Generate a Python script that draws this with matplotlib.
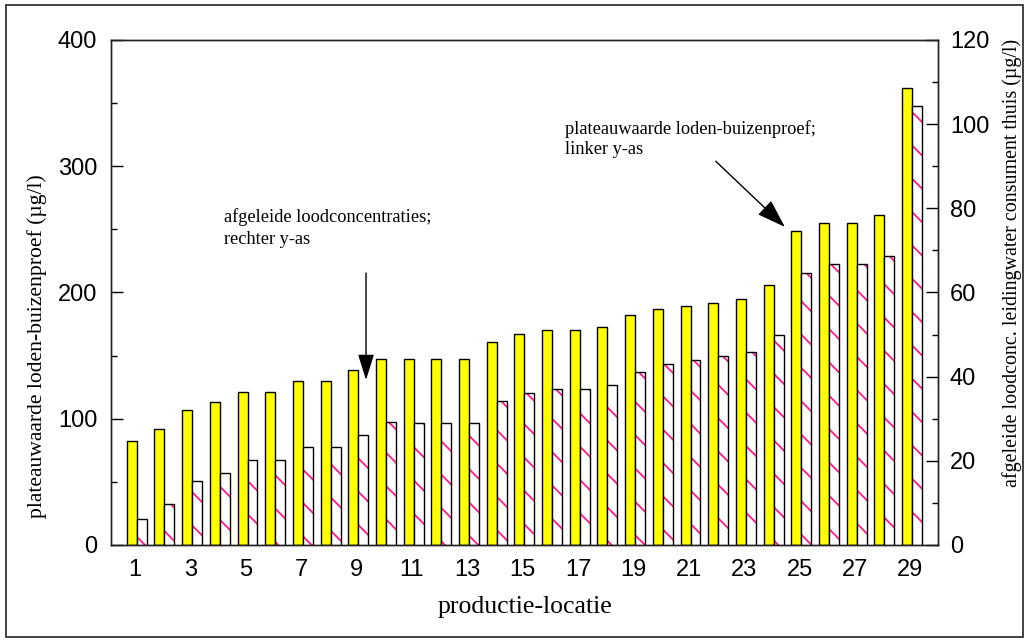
import matplotlib
matplotlib.use("Agg")
import matplotlib.pyplot as plt
from matplotlib.patches import Rectangle
from matplotlib.ticker import MultipleLocator
import numpy as np

locaties = np.arange(1, 30)
# plateauwaarde loden-buizenproef (linker y-as, ug/l)
plateau = [82, 92, 107, 113, 121, 121, 130, 130, 139, 147,
           147, 147, 147, 161, 167, 170, 170, 173, 182, 187,
           189, 192, 195, 206, 249, 255, 255, 261, 362]
# afgeleide loodconcentraties (rechter y-as, ug/l)
afgeleid = [6.2, 9.7, 15.3, 17.2, 20.2, 20.2, 23.2, 23.2, 26.1, 29.2,
            29.1, 29.1, 29.1, 34.1, 36.0, 37.0, 37.0, 38.0, 41.0, 42.9,
            43.9, 44.9, 45.9, 49.8, 64.6, 66.7, 66.7, 68.6, 104.2]
xtick_labels = [str(i) for i in range(1, 30, 2)]

serif = ["Liberation Serif", "DejaVu Serif"]
sans = ["Liberation Sans", "DejaVu Sans"]
plt.rcParams['font.family'] = sans
plt.rcParams['hatch.linewidth'] = 1.3

fig = plt.figure(figsize=(10.29, 6.42), dpi=100)
ax = fig.add_axes([0.1079, 0.1511, 0.8037, 0.7866])
ax2 = ax.twinx()

w = 0.36
ax.bar(locaties - 0.12, plateau, width=w, color='#ffff00', edgecolor='black', linewidth=1.0)

# gearceerde staven: eerst roze arcering, daarna zwarte rand erover
ax2.bar(locaties + 0.24, afgeleid, width=w, color='white', edgecolor='#ff1a8c',
        hatch='\\', linewidth=0)
ax2.bar(locaties + 0.24, afgeleid, width=w, fill=False, edgecolor='black', linewidth=1.0)

ax.set_xlim(0.13, 30.0)
ax.set_ylim(0, 400)
ax2.set_ylim(0, 120)

ax.set_xticks(range(1, 30, 2))
ax.set_xticklabels(xtick_labels)
ax.yaxis.set_major_locator(MultipleLocator(100))
ax.yaxis.set_minor_locator(MultipleLocator(50))
ax2.yaxis.set_major_locator(MultipleLocator(20))
ax2.yaxis.set_minor_locator(MultipleLocator(10))

ax.tick_params(axis='x', length=0, pad=10, labelsize=17)
ax.tick_params(axis='y', which='major', direction='in', length=8.6, width=1, pad=10, labelsize=17)
ax.tick_params(axis='y', which='minor', direction='in', length=4.3, width=1)
ax2.tick_params(axis='y', which='major', direction='in', length=8.6, width=1, pad=8.6, labelsize=17)
ax2.tick_params(axis='y', which='minor', direction='in', length=4.3, width=1)

for a in (ax, ax2):
    for s in a.spines.values():
        s.set_color('#222222')
        s.set_linewidth(1.0)

fig.text(0.036, 1 - 346 / 642, "plateauwaarde loden-buizenproef (µg/l)", rotation=90,
         ha='center', va='center', fontsize=15.6, family=serif)
fig.text(0.984, 1 - 263 / 642, "afgeleide loodconc. leidingwater consument thuis (µg/l)",
         rotation=90, ha='center', va='center', fontsize=14.4, family=serif)
ax.set_xlabel("productie-locatie", fontsize=18.5, family=serif, labelpad=11)

ax.annotate("", xy=(9.34, 130.7), xytext=(9.34, 215.4),
            arrowprops=dict(arrowstyle='-|>,head_length=1.6,head_width=0.5',
                            color='black', lw=1.0, shrinkA=0, shrinkB=0))
ax.text(4.21, 251, "afgeleide loodconcentraties;\nrechter y-as", ha='left', va='center',
        fontsize=13.2, family=serif, linespacing=1.45)

ax.annotate("", xy=(24.47, 251.9), xytext=(21.97, 304),
            arrowprops=dict(arrowstyle='-|>,head_length=1.8,head_width=0.6',
                            color='black', lw=1.0, shrinkA=0, shrinkB=0))
ax.text(16.52, 321.6, "plateauwaarde loden-buizenproef;\nlinker y-as", ha='left', va='center',
        fontsize=13.2, family=serif, linespacing=1.25)

fig.patches.append(Rectangle((6 / 1029, 1 - 637 / 642), 1017 / 1029, 632 / 642,
                             transform=fig.transFigure, fill=False,
                             edgecolor='#222222', linewidth=1.2))

fig.savefig("out.png", dpi=100)
